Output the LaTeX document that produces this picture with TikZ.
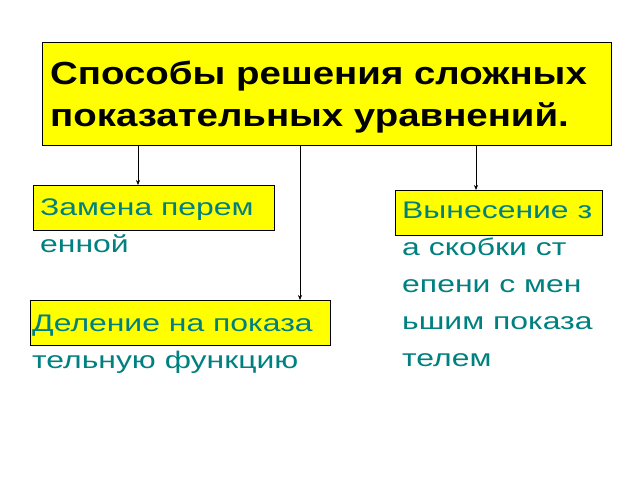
\documentclass[tikz,border=0pt]{standalone}
\usepackage{fontspec}
\setmainfont{Liberation Sans}
\newfontfamily\widefont[FakeStretch=1.33]{Liberation Sans}
\newfontfamily\titlefont[FakeStretch=1.2]{Liberation Sans}
\usetikzlibrary{arrows.meta}
\definecolor{boxy}{RGB}{255,255,0}
\definecolor{tealt}{RGB}{0,128,128}
\begin{document}
\begin{tikzpicture}[x=1pt,y=-1pt,
  ybox/.style={fill=boxy,draw=black,line width=0.8pt},
  ttext/.style={anchor=north west,inner sep=0pt,align=left,text=tealt,font=\widefont\fontsize{24}{37}\selectfont},
  arr/.style={-{Stealth[length=5pt,width=4pt]},line width=0.6pt}]
\useasboundingbox (0,0) rectangle (640,480);
\draw[ybox] (42,42) rectangle (611,145);
\node[anchor=north west,inner sep=0pt,align=left,font=\titlefont\fontsize{32}{42}\bfseries\selectfont] (title) at (50,61) {Способы решения сложных\\показательных уравнений.};
\draw[ybox] (33,185) rectangle (274,230);
\draw[ybox] (395,190) rectangle (602,235);
\draw[ybox] (30,300) rectangle (330,345);
\node[ttext] (a) at (40,199) {Замена перем\\енной};
\node[ttext] (b) at (402,202) {Вынесение з\\а скобки ст\\епени с мен\\ьшим показа\\телем};
\node[ttext] (c) at (32,315) {Деление на показа\\тельную функцию};
\coordinate (t1) at (138,145); \coordinate (e1) at (138,185);
\coordinate (t2) at (300,145); \coordinate (e2) at (300,300);
\coordinate (t3) at (476,145); \coordinate (e3) at (476,190);
\draw[arr] (t1) -- (e1);
\draw[arr] (t2) -- (e2);
\draw[arr] (t3) -- (e3);
\end{tikzpicture}
\end{document}
